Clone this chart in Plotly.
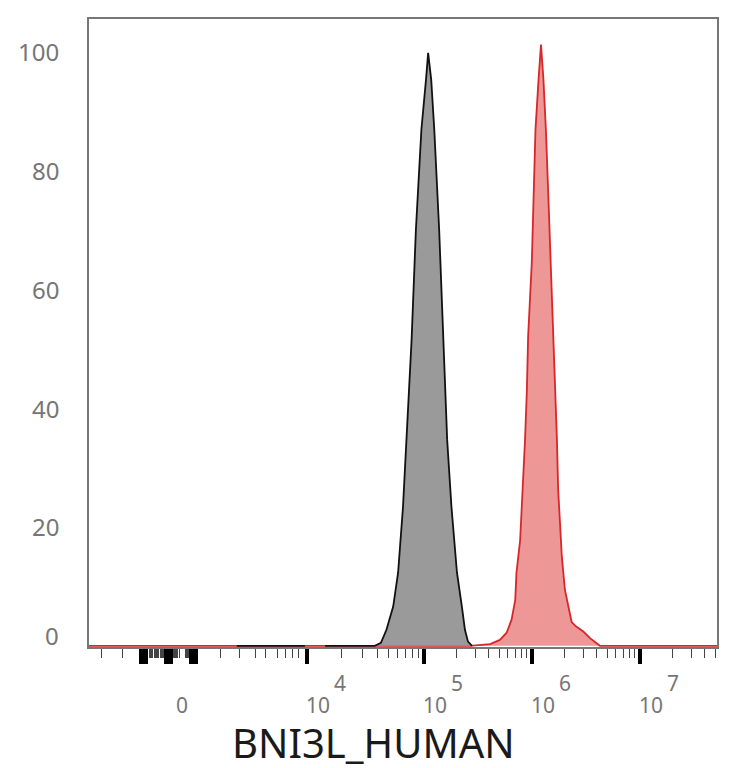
import math

import plotly.graph_objects as go

## ----------- data ----------- ##
# x is the display channel of the biexponential axis (0-1024), y is % of max
GREY_X = [241, 352, None, 385, 466, 476, 485, 496, 504, 512, 518, 526, 533, 542,
          549.5, 553, 558, 563, 571, 578, 584, 591, 600, 608, 613, 618, 624.5]
GREY_Y = [0, 0, None, 0, 0, 0.5, 2.7, 6.6, 12.3, 23.4, 34.7, 51.5, 70.0, 86.9,
          95.3, 99.8, 95.3, 86.9, 70.0, 52.4, 34.7, 23.4, 12.3, 6.6, 2.7, 0.7, 0]

RED_X = [0, 621, 654, 670, 681, 689, 695, 697, 703, 706, 708, 711, 714, 716, 722,
         724.5, 728, 733, 737, 741, 745, 749, 753, 757, 760, 763, 765, 768, 771,
         776, 781.5, 787, 795, 806, 817, 830.5, 833, 1024]
RED_Y = [0, 0, 0.3, 1.0, 2.2, 4.4, 7.7, 12.3, 17.8, 23.4, 29.1, 34.7, 43.1, 52.0,
         64.5, 75.6, 86.9, 95.3, 101.2, 95.3, 86.9, 75.6, 64.5, 52.4, 43.1, 34.7,
         26.3, 20.7, 15.0, 9.4, 6.6, 4.0, 3.2, 2.4, 1.3, 0.2, 0, 0]

# axis labels: channel of 0, 10^4 .. 10^7
LABEL_CH = [130, 355, 546, 722, 898]
LABEL_EXP = [None, "4", "5", "6", "7"]
Y_LABELS = [0, 20, 40, 60, 80, 100]
TITLE = "BNI3L_HUMAN"

# tick marks on the channel scale (the dense cluster round zero is the linear part)
ZERO_MAJOR = [85, 89, 93, 125.5, 129.5, 133.5, 166.5, 170.5, 174.5]
ZERO_DENSE_SPANS = [(96, 122), (137, 148), (157, 164)]
LOW_MINOR = [21, 54, 214, 245, 272, 287, 307, 320, 331, 341]

AXIS_MAX = 1024
Y_MAX = 105.5

## ----------- ticks ----------- ##
major_ticks = ZERO_MAJOR + LABEL_CH[1:]
minor_ticks = list(LOW_MINOR)
for lo, hi in ZERO_DENSE_SPANS:
	ch = lo
	while ch <= hi:
		minor_ticks.append(ch)
		ch += 2.0
decade_edges = LABEL_CH[1:] + [LABEL_CH[-1] + (LABEL_CH[-1] - LABEL_CH[-2])]
for lo, hi in zip(decade_edges[:-1], decade_edges[1:]):
	for m in range(2, 10):
		ch = lo + (hi - lo) * math.log10(m)
		if ch < AXIS_MAX - 2:
			minor_ticks.append(ch)

fig = go.Figure()
fig.add_trace(
	go.Scatter(
		x=RED_X, y=RED_Y,
		mode="lines",
		fill="tozeroy",
		fillcolor="rgba(236,140,140,0.9)",
		line=dict(color="#d8262a", width=1.8),
		hoverinfo="skip",
	)
)
fig.add_trace(
	go.Scatter(
		x=GREY_X, y=GREY_Y,
		mode="lines",
		fill="tozeroy",
		fillcolor="#9a9a9a",
		line=dict(color="#111111", width=1.8),
		connectgaps=False,
		hoverinfo="skip",
	)
)

LABEL_FONT = dict(family="Noto Sans", size=21, color="#767676")
annotations = []
for ch, exp in zip(LABEL_CH, LABEL_EXP):
	if exp is None:
		annotations.append(dict(x=ch, y=0, xref="x", yref="paper", text="0",
								showarrow=False, xanchor="left", yanchor="middle",
								xshift=5, yshift=-58, font=LABEL_FONT))
		continue
	annotations.append(dict(x=ch, y=0, xref="x", yref="paper", text="10",
							showarrow=False, xanchor="left", yanchor="middle",
							xshift=-3, yshift=-58, font=LABEL_FONT))
	annotations.append(dict(x=ch, y=0, xref="x", yref="paper", text=exp,
							showarrow=False, xanchor="left", yanchor="middle",
							xshift=25, yshift=-36, font=LABEL_FONT))
for v in Y_LABELS:
	annotations.append(dict(x=0, y=v, xref="paper", yref="y", text=str(v),
							showarrow=False, xanchor="right", yanchor="middle",
							xshift=-28, yshift=10 if v == 0 else 0,
							font=dict(family="Noto Sans", size=24, color="#767676")))
annotations.append(dict(x=0.453, y=0, xref="paper", yref="paper", text=TITLE,
						showarrow=False, xanchor="center", yanchor="middle",
						yshift=-95, font=dict(family="Noto Sans", size=40, color="#1a1a1a")))

fig.update_layout(
	width=734,
	height=768,
	margin=dict(l=89, r=17, t=19, b=121),
	plot_bgcolor="white",
	paper_bgcolor="white",
	showlegend=False,
	annotations=annotations,
	xaxis=dict(
		range=[0, AXIS_MAX],
		showgrid=False,
		zeroline=False,
		showline=True,
		mirror=True,
		linecolor="#777777",
		linewidth=1.5,
		layer="below traces",
		showticklabels=False,
		tickmode="array",
		tickvals=major_ticks,
		ticks="outside",
		ticklen=15,
		tickwidth=3.5,
		tickcolor="#000000",
		minor=dict(tickmode="array", tickvals=minor_ticks, ticks="outside",
				   ticklen=9, tickwidth=1.3, tickcolor="#444444", showgrid=False),
	),
	yaxis=dict(
		range=[-0.2, Y_MAX],
		showgrid=False,
		zeroline=False,
		showline=True,
		mirror=True,
		linecolor="#777777",
		linewidth=1.5,
		layer="below traces",
		showticklabels=False,
		ticks="",
	),
)

# the page body has a default margin; drop it so the figure sits at the corner
fig.write_html("out.html", config={"displayModeBar": False},
			   post_script="document.body.style.margin='0';")
